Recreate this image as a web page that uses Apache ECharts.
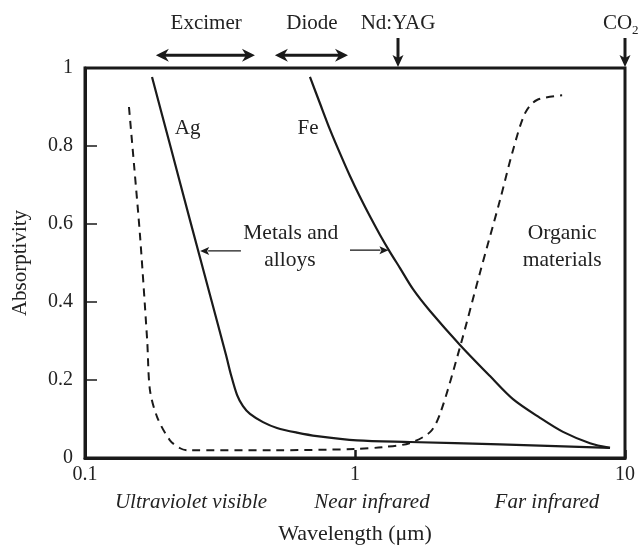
<!DOCTYPE html>
<html>
<head>
<meta charset="utf-8">
<script src="https://cdn.jsdelivr.net/npm/echarts@6/dist/echarts.min.js"></script>
<style>
  html, body { margin: 0; padding: 0; background: #fff; }
  #chart { width: 639px; height: 547px; }
</style>
</head>
<body>
<div id="chart"></div>
<script>
// Ag absorptivity vs wavelength (um)
const agX = [0.1771, 0.2065, 0.2448, 0.2904, 0.3329, 0.3474, 0.3656, 0.3847, 0.4084, 0.4563, 0.5141, 0.61, 0.7233, 1.017, 1.598, 3.443, 8.8];
const agY = [0.977, 0.803, 0.61, 0.418, 0.264, 0.213, 0.162, 0.133, 0.113, 0.092, 0.077, 0.065, 0.056, 0.045, 0.041, 0.035, 0.026];
// Fe
const feX = [0.681, 0.742, 0.808, 0.88, 0.958, 1.044, 1.137, 1.238, 1.348, 1.468, 1.64, 1.896, 2.448, 3.162, 3.847, 4.845, 5.894, 7.42, 8.8];
const feY = [0.977, 0.909, 0.842, 0.781, 0.723, 0.669, 0.619, 0.572, 0.528, 0.487, 0.433, 0.377, 0.29, 0.21, 0.151, 0.103, 0.067, 0.038, 0.026];
// organic materials (dashed)
const orgX = [0.1455, 0.152, 0.16, 0.17, 0.174, 0.185, 0.206, 0.225, 0.24, 0.5, 1.0, 1.27, 1.59, 1.9, 2.07, 2.45, 2.9, 3.44, 3.85, 4.27, 4.72, 5.85];
const orgY = [0.9, 0.75, 0.567, 0.3, 0.174, 0.105, 0.046, 0.025, 0.02, 0.02, 0.023, 0.028, 0.038, 0.067, 0.115, 0.285, 0.474, 0.66, 0.79, 0.885, 0.918, 0.93];

const yTicks = [0, 0.2, 0.4, 0.6, 0.8, 1];
const xTicks = [0.1, 1, 10];

// laser ranges above the frame
const laserRanges = [['Excimer', 0.183, 0.426, 0.281], ['Diode', 0.505, 0.942, 0.693]];
const laserLines = [['Nd:YAG', 1.443], ['CO', 10]];
const bandLabels = [['Ultraviolet visible', 0.247], ['Near infrared', 1.156], ['Far infrared', 5.14]];

const ink = '#1a1a1a';
const serif = '"Liberation Serif", "DejaVu Serif", serif';

const chart = echarts.init(document.getElementById('chart'));

function pairs(xs, ys) { return xs.map((x, i) => [x, ys[i]]); }

chart.setOption({
  animation: false,
  grid: { left: 85, right: 14, top: 68, bottom: 89, outerBoundsMode: 'none', containLabel: false,
    show: true, borderColor: ink, borderWidth: 3 },
  xAxis: {
    type: 'log', logBase: 10, min: xTicks[0], max: xTicks[xTicks.length - 1],
    name: 'Wavelength (\u03bcm)', nameLocation: 'middle', nameGap: 65,
    nameTextStyle: { fontFamily: serif, fontSize: 22, color: '#222' },
    axisLine: { lineStyle: { color: ink, width: 3 } },
    axisTick: { inside: true, length: 8, lineStyle: { color: ink, width: 2.5 } },
    minorTick: { show: false },
    splitLine: { show: false },
    axisLabel: { margin: 7, fontFamily: serif, fontSize: 20, color: '#222',
      formatter: v => String(+(+v).toPrecision(3)) }
  },
  yAxis: {
    type: 'value', min: yTicks[0], max: yTicks[yTicks.length - 1], interval: 0.2,
    name: 'Absorptivity', nameLocation: 'middle', nameGap: 54,
    nameTextStyle: { fontFamily: serif, fontSize: 21, color: '#222' },
    axisLine: { lineStyle: { color: ink, width: 3 } },
    axisTick: { inside: true, length: 12, lineStyle: { color: ink, width: 1.5 } },
    splitLine: { show: false },
    axisLabel: { margin: 12, fontFamily: serif, fontSize: 20, color: '#222' }
  },
  series: [
    { name: 'Ag', type: 'line', data: pairs(agX, agY), showSymbol: false, smooth: 0.3,
      lineStyle: { color: ink, width: 2.2 } },
    { name: 'Fe', type: 'line', data: pairs(feX, feY), showSymbol: false, smooth: 0.3,
      lineStyle: { color: ink, width: 2.2 } },
    { name: 'Organic materials', type: 'line', data: pairs(orgX, orgY), showSymbol: false, smooth: 0.3,
      lineStyle: { color: ink, width: 2, type: [8, 6] } }
  ]
});

// annotations placed from data coordinates
const px = (x, y) => chart.convertToPixel({ gridIndex: 0 }, [x, y]);

function head(tip, dir, len, half, notch) {
  const [dx, dy] = dir, nx = -dy, ny = dx;
  return {
    type: 'polygon', silent: true,
    shape: { points: [
      tip,
      [tip[0] - dx * len + nx * half, tip[1] - dy * len + ny * half],
      [tip[0] - dx * (len - notch), tip[1] - dy * (len - notch)],
      [tip[0] - dx * len - nx * half, tip[1] - dy * len - ny * half]
    ] },
    style: { fill: ink }
  };
}
function seg(a, b, w) {
  return { type: 'line', silent: true, shape: { x1: a[0], y1: a[1], x2: b[0], y2: b[1] },
    style: { stroke: ink, lineWidth: w } };
}
function text(str, p, size, extra) {
  return { type: 'text', silent: true, x: p[0], y: p[1],
    style: Object.assign({ text: str, fontFamily: serif, fontSize: size, fill: '#222',
      align: 'center', verticalAlign: 'middle' }, extra || {}) };
}

const g = [];
laserRanges.forEach(([label, x1, x2, xc]) => {
  const a = px(x1, 1.033), b = px(x2, 1.033);
  g.push(seg([a[0] + 8, a[1]], [b[0] - 8, b[1]], 3));
  g.push(head(a, [-1, 0], 13, 6.5, 4));
  g.push(head(b, [1, 0], 13, 6.5, 4));
  g.push(text(label, px(xc, 1.115), 21));
});
laserLines.forEach(([label, x]) => {
  const a = px(x, 1.077), b = px(x, 1.0);
  g.push(seg(a, [b[0], b[1] - 8], 3));
  g.push(head([b[0], b[1] - 1], [0, 1], 12, 5.5, 3));
  const t = px(x, 1.115);
  if (label === 'CO') {
    g.push(text('CO', [t[0] - 22, t[1]], 21, { align: 'left' }));
    g.push(text('2', [t[0] + 7, t[1] + 7], 13, { align: 'left' }));
  } else {
    g.push(text(label, t, 21));
  }
});
bandLabels.forEach(([label, x]) => {
  g.push(text(label, px(x, -0.113), 21, { fontStyle: 'italic' }));
});

// in-plot labels
g.push(text('Ag', px(0.24, 0.846), 21));
g.push(text('Fe', px(0.67, 0.846), 21));
g.push(text('Metals and', px(0.578, 0.577), 21.5));
g.push(text('alloys', px(0.574, 0.507), 21.5));
g.push(text('Organic', px(5.85, 0.577), 21.5));
g.push(text('materials', px(5.85, 0.507), 21.5));

// pointers to the Ag and Fe curves
const l1 = px(0.378, 0.531), t1 = px(0.267, 0.531);
g.push(seg(l1, [t1[0] + 8, t1[1]], 1.3));
g.push(head(t1, [-1, 0], 9, 4, 2));
const l2 = px(0.958, 0.533), t2 = px(1.33, 0.533);
g.push(seg(l2, [t2[0] - 8, t2[1]], 1.3));
g.push(head(t2, [1, 0], 9, 4, 2));

chart.setOption({ graphic: g });
</script>
</body>
</html>
